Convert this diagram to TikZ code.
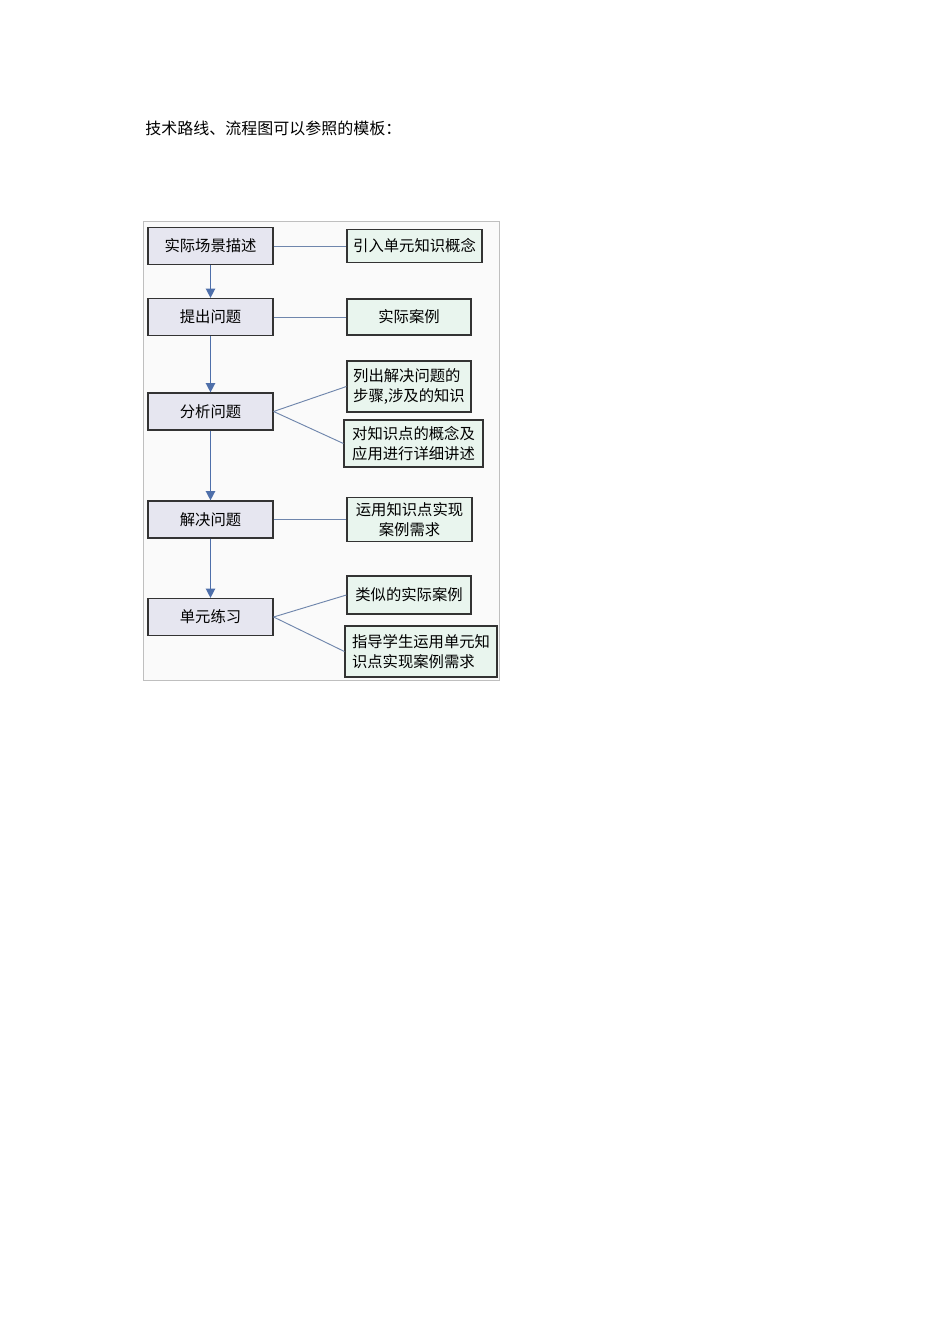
\documentclass[tikz,border=0pt]{standalone}
\usepackage{fontspec}
\setmainfont{Noto Sans CJK SC}
\usetikzlibrary{arrows.meta}
\definecolor{fondoizq}{HTML}{E6E6F0}
\definecolor{fondoder}{HTML}{E9F5EE}
\definecolor{azulflecha}{HTML}{4E6FAA}
\definecolor{azullinea}{HTML}{6F86AC}
\tikzset{
  paso/.style={draw=black!80, line width=0.9pt, fill=fondoizq, inner sep=0pt,
    minimum width=93.75pt, minimum height=27.75pt, font=\fontsize{11.5pt}{15pt}\selectfont},
  nota/.style={draw=black!80, line width=0.9pt, fill=fondoder, inner sep=0pt,
    align=left, font=\fontsize{11.5pt}{15pt}\selectfont},
  flecha/.style={azulflecha, line width=1.1pt, -{Triangle[length=7pt,width=7pt]}},
  enlace/.style={azullinea, line width=0.7pt}
}
\begin{document}
\begin{tikzpicture}[x=0.75pt, y=-0.75pt]
      \useasboundingbox (0,0) rectangle (950,1344);
      %titulo
      \node[anchor=west, inner sep=0pt, font=\fontsize{12pt}{14pt}\selectfont] (titulo) at (145,128) {技术路线、流程图可以参照的模板：};
      %marco
      \draw[black!25, fill=black!2] (143,221) rectangle (499,680);
      %pasos
      \node[paso] (s1) at (210.5,246) {实际场景描述};
      \node[paso] (s2) at (210.5,317) {提出问题};
      \node[paso] (s3) at (210.5,411.5) {分析问题};
      \node[paso] (s4) at (210.5,519.5) {解决问题};
      \node[paso] (s5) at (210.5,617) {单元练习};
      %notas
      \node[nota, minimum width=101.25pt, minimum height=24.75pt] (r1) at (414.5,246) {引入单元知识概念};
      \node[nota, minimum width=93pt, minimum height=27pt] (r2) at (409,317) {实际案例};
      \node[nota, minimum width=93pt, minimum height=38.25pt] (r3) at (409,386.5) {列出解决问题的\\步骤,涉及的知识};
      \node[nota, minimum width=104.25pt, minimum height=35.25pt] (r4) at (413.5,443.5) {对知识点的概念及\\应用进行详细讲述};
      \node[nota, align=center, minimum width=93.75pt, minimum height=33pt] (r5) at (409.5,519.5) {运用知识点实现\\案例需求};
      \node[nota, minimum width=93pt, minimum height=28.5pt] (r6) at (409,595) {类似的实际案例};
      \node[nota, minimum width=114pt, minimum height=38.25pt] (r7) at (421,651.5) {指导学生运用单元知\\识点实现案例需求};
      %flechas
      \draw[flecha] (s1) -- (s2);
      \draw[flecha] (s2) -- (s3);
      \draw[flecha] (s3) -- (s4);
      \draw[flecha] (s4) -- (s5);
      %enlaces
      \draw[enlace] (s1.east) -- (r1.west);
      \draw[enlace] (s2.east) -- (r2.west);
      \draw[enlace] (s3.east) -- (r3.west);
      \draw[enlace] (s3.east) -- (r4.west);
      \draw[enlace] (s4.east) -- (r5.west);
      \draw[enlace] (s5.east) -- (r6.west);
      \draw[enlace] (s5.east) -- (r7.west);
  \end{tikzpicture}
\end{document}
